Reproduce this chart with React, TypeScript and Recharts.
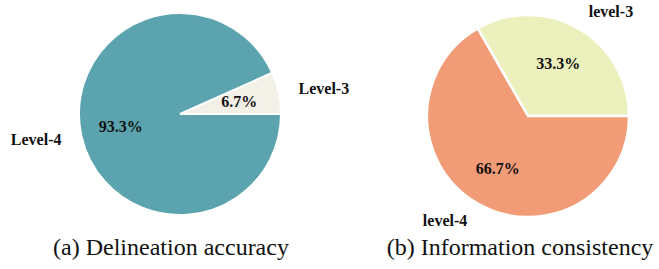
import { PieChart, Pie, Cell } from "recharts";

const delineationLabels = ["Level-3", "Level-4"];
const delineationValues = [6.7, 93.3];
const delineationColors = ["#f3f0e7", "#5ba4af"];

const consistencyLabels = ["level-3", "level-4"];
const consistencyValues = [33.3, 66.7];
const consistencyColors = ["#ebf0bd", "#f29b77"];

const RAD = Math.PI / 180;
const labelFont = "'Liberation Serif', 'Times New Roman', serif";

// matplotlib-style labels: pct at 0.6R, name at 1.2R
// eslint-disable-next-line @typescript-eslint/no-explicit-any
const renderLabel = (props: any) => {
  const { cx, cy, midAngle, outerRadius, percent, name } = props;
  const cos = Math.cos(-midAngle * RAD);
  const sin = Math.sin(-midAngle * RAD);
  const px = cx + outerRadius * 0.6 * cos;
  const py = cy + outerRadius * 0.6 * sin;
  const nx = cx + outerRadius * 1.2 * cos;
  const ny = cy + outerRadius * 1.2 * sin;
  return (
    <g>
      <text x={px} y={py} textAnchor="middle" dominantBaseline="central"
        fontFamily={labelFont} fontWeight="bold" fontSize={16} fill="#111">
        {`${(percent * 100).toFixed(1)}%`}
      </text>
      <text x={nx} y={ny} textAnchor={cos >= 0 ? "start" : "end"} dominantBaseline="central"
        fontFamily={labelFont} fontWeight="bold" fontSize={16} fill="#111">
        {name}
      </text>
    </g>
  );
};

const leftData = delineationLabels.map((name, i) => ({ name, value: delineationValues[i] }));
const rightData = consistencyLabels.map((name, i) => ({ name, value: consistencyValues[i] }));

const titleStyle = {
  position: "absolute" as const,
  top: 247,
  transform: "translate(-50%, -50%)",
  whiteSpace: "nowrap" as const,
  fontFamily: labelFont,
  fontSize: 24,
  color: "#111",
};

export default function App() {
  return (
    <div style={{ position: "absolute", left: 0, top: 0, width: 659, height: 269, background: "#fff" }}>
      <PieChart width={659} height={269} margin={{ top: 0, right: 0, bottom: 0, left: 0 }}>
        <Pie
          data={leftData}
          dataKey="value"
          nameKey="name"
          cx={180}
          cy={114}
          outerRadius={101}
          startAngle={0}
          endAngle={360}
          stroke="#fff"
          strokeWidth={2}
          label={renderLabel}
          labelLine={false}
          isAnimationActive={false}
        >
          {leftData.map((d, i) => (
            <Cell key={d.name} fill={delineationColors[i]} />
          ))}
        </Pie>
        <Pie
          data={rightData}
          dataKey="value"
          nameKey="name"
          cx={528}
          cy={116}
          outerRadius={101}
          startAngle={0}
          endAngle={360}
          stroke="#fff"
          strokeWidth={2.5}
          label={renderLabel}
          labelLine={false}
          isAnimationActive={false}
        >
          {rightData.map((d, i) => (
            <Cell key={d.name} fill={consistencyColors[i]} />
          ))}
        </Pie>
      </PieChart>
      <div style={{ ...titleStyle, left: 171 }}>(a) Delineation accuracy</div>
      <div style={{ ...titleStyle, left: 520 }}>(b) Information consistency</div>
    </div>
  );
}
